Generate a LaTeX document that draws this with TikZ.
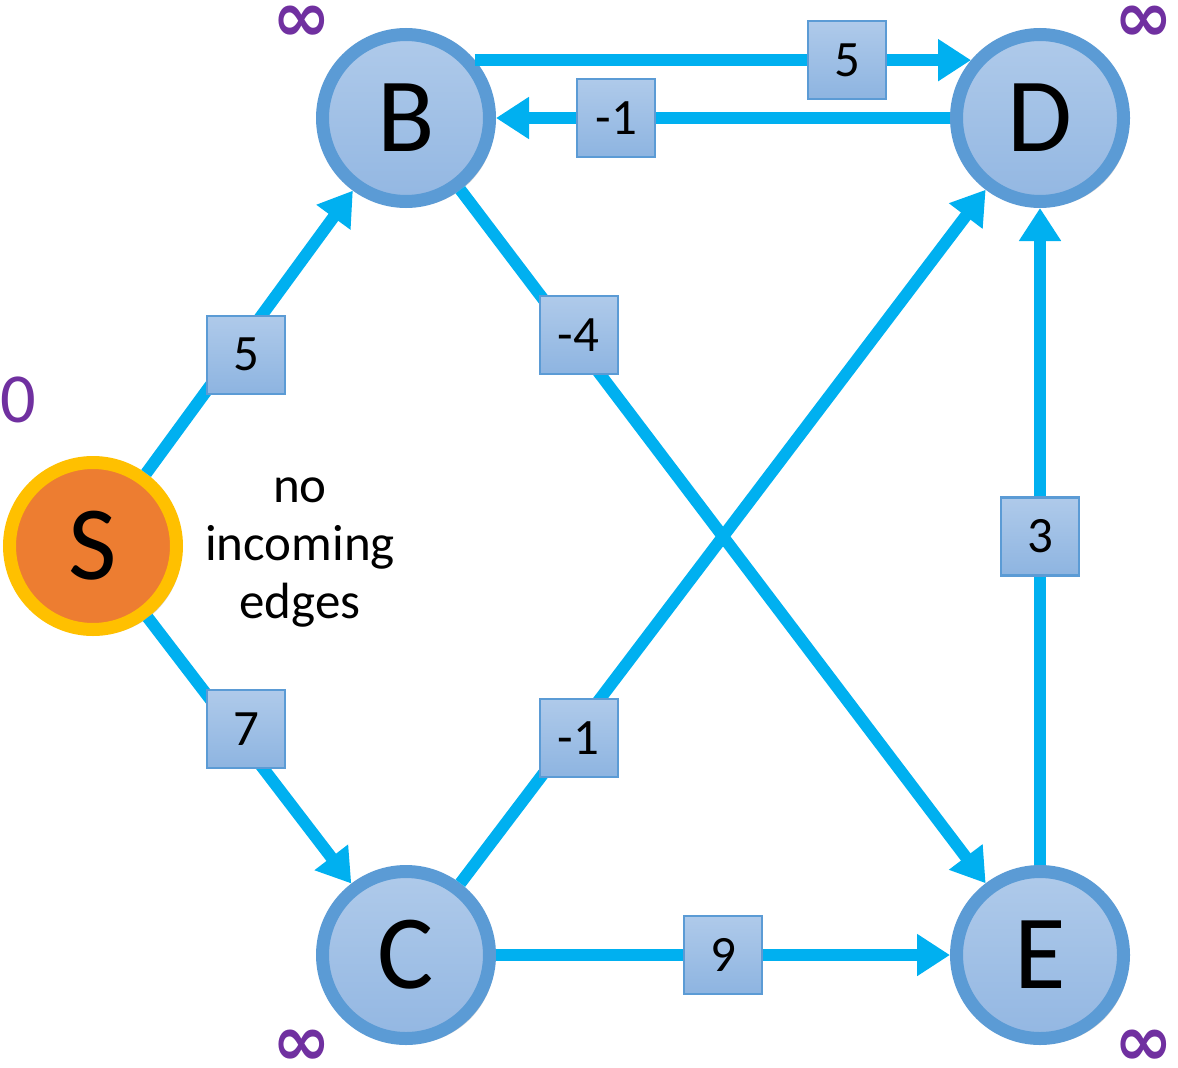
\documentclass[tikz,border=0pt]{standalone}
\usepackage{fontspec}
\setmainfont{Carlito}
\newfontfamily\symfont{DejaVu Sans}
\usetikzlibrary{arrows.meta,shadows}

\definecolor{edgeblue}{HTML}{00B0F0}
\definecolor{ringblue}{HTML}{5B9BD5}
\definecolor{topblue}{HTML}{AFCAEA}
\definecolor{botblue}{HTML}{93B7E2}
\definecolor{srcorange}{HTML}{ED7D31}
\definecolor{srcring}{HTML}{FFC000}
\definecolor{distpurple}{HTML}{7030A0}

\begin{document}
\begin{tikzpicture}[
		vertex/.style={circle, minimum size=1.67cm, inner sep=0pt, line width=0.13cm, draw=ringblue,
			top color=topblue, bottom color=botblue, font=\fontsize{30}{30}\selectfont,
			drop shadow={opacity=0.35, shadow xshift=0.05cm, shadow yshift=-0.05cm}},
		source/.style={vertex, draw=srcring, top color=srcorange, bottom color=srcorange},
		wedge/.style={line width=0.12cm, draw=edgeblue, -{Triangle[length=0.33cm, width=0.4cm]}},
		weight/.style={rectangle, minimum size=0.78cm, inner sep=0pt, draw=ringblue, line width=0.6pt,
			top color=topblue, bottom color=botblue!90!ringblue, font=\fontsize{14.5}{14.5}\selectfont},
		dist/.style={text=distpurple, inner sep=0pt},
		inf/.style={dist, font=\symfont\bfseries\fontsize{20}{20}\selectfont}]
		\useasboundingbox (0, 0) rectangle (11.78, 10.67);

		% vertices
		\node [source] (S) at (0.93, 5.21) {S};
		\node [vertex] (B) at (4.06, 9.49) {B};
		\node [vertex] (D) at (10.40, 9.49) {D};
		\node [vertex] (C) at (4.06, 1.12) {C};
		\node [vertex] (E) at (10.40, 1.12) {E};

		% edges with weights (boxes sit a bit right of the diagonals)
		\draw [wedge] (S) -- node [weight, pos=0.42, xshift=0.13cm] (wSB) {5} (B);
		\draw [wedge] (S) -- node [weight, pos=0.42, xshift=0.13cm] (wSC) {7} (C);
		\draw [wedge] (B.40) -- node [weight, pos=0.75] (wBD) {5} (D.140);
		\draw [wedge] (D) -- node [weight, pos=0.735] (wDB) {-1} (B);
		\draw [wedge] (B) -- node [weight, pos=0.21, xshift=0.08cm] (wBE) {-4} (E);
		\draw [wedge] (C) -- node [weight, pos=0.21, xshift=0.08cm] (wCD) {-1} (D);
		\draw [wedge] (C) -- node [weight, pos=0.5] (wCE) {9} (E);
		\draw [wedge] (E) -- node [weight, pos=0.5] (wED) {3} (D);

		% distance estimates
		\node [dist, font=\fontsize{20}{20}\selectfont] (dS) at (0.18, 6.67) {0};
		\node [inf] (dB) at (3.02, 10.43) {∞};
		\node [inf] (dD) at (11.44, 10.43) {∞};
		\node [inf] (dC) at (3.02, 0.19) {∞};
		\node [inf] (dE) at (11.44, 0.19) {∞};

		\node [align=center, font=\fontsize{14.5}{16.5}\selectfont] (note) at (3.00, 5.14) {no\\incoming\\edges};
	\end{tikzpicture}
\end{document}
